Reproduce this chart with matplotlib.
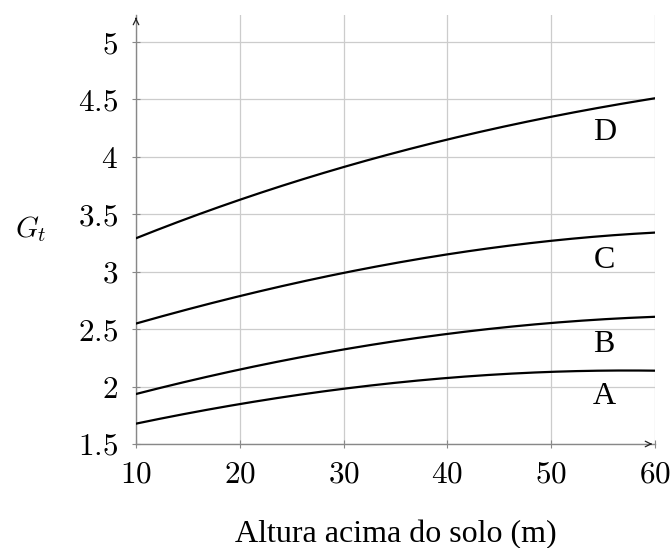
import matplotlib
matplotlib.use("Agg")
import matplotlib.pyplot as plt
import numpy as np

plt.rcParams["mathtext.fontset"] = "cm"
plt.rcParams["font.family"] = ["Liberation Serif", "DejaVu Serif"]

heights = [10, 20, 30, 40, 50, 60]
curve_a = [1.677, 1.848, 1.981, 2.074, 2.129, 2.138]
curve_b = [1.935, 2.149, 2.323, 2.457, 2.555, 2.607]
curve_c = [2.549, 2.787, 2.990, 3.152, 3.268, 3.341]
curve_d = [3.291, 3.627, 3.913, 4.146, 4.353, 4.509]
curve_names = ["A", "B", "C", "D"]
label_y = [1.848, 2.297, 3.029, 4.148]
x_ticks = [10, 20, 30, 40, 50, 60]
y_ticks = [1.5, 2, 2.5, 3, 3.5, 4, 4.5, 5]

fig = plt.figure(figsize=(6.72, 5.48), dpi=100)
ax = fig.add_axes([0.2024, 0.1898, 0.7723, 0.7828])

xs = np.linspace(10, 60, 200)
for vals in (curve_a, curve_b, curve_c, curve_d):
    coef = np.polyfit(heights, vals, 3)
    ax.plot(xs, np.polyval(coef, xs), color="black", lw=1.6, zorder=3)

for name, yv in zip(curve_names, label_y):
    ax.text(55.1, yv, name, fontsize=23, ha="center", va="baseline")

ax.set_xlim(10, 60)
ax.set_ylim(1.5, 5.235)
ax.set_xticks(x_ticks)
ax.set_xticklabels([f"${t}$" for t in x_ticks], fontsize=22.5)
ax.set_yticks(y_ticks)
ax.set_yticklabels([f"${t:g}$" for t in y_ticks], fontsize=22.5)
ax.grid(True, color="#cccccc", lw=0.9)
ax.set_axisbelow(True)
ax.tick_params(direction="inout", length=6, width=0.8, color="#888888")
ax.tick_params(axis="y", pad=10)
ax.tick_params(axis="x", pad=9)

for s in ("top", "right"):
    ax.spines[s].set_visible(False)
for s in ("left", "bottom"):
    ax.spines[s].set_color("#888888")
    ax.spines[s].set_linewidth(1.0)

ax.annotate("", xy=(1, 0), xytext=(0.985, 0), xycoords="axes fraction",
            arrowprops=dict(arrowstyle="->", color="#222222", lw=0.9))
ax.annotate("", xy=(0, 1), xytext=(0, 0.985), xycoords="axes fraction",
            arrowprops=dict(arrowstyle="->", color="#222222", lw=0.9))

ax.set_xlabel("Altura acima do solo (m)", fontsize=23, labelpad=22)
fig.text(0.046, 0.582, "$G_t$", fontsize=21, ha="center", va="center")

fig.savefig("out.png", dpi=100)
